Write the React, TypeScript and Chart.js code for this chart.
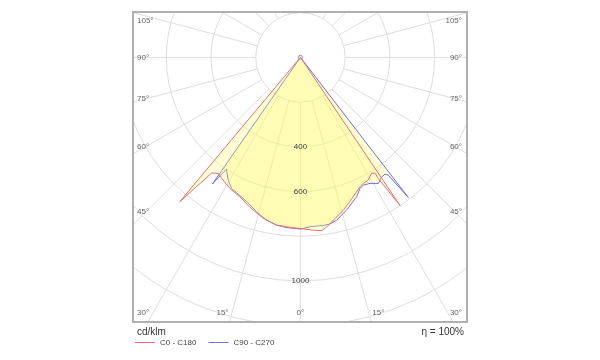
import React, { useEffect, useRef } from "react";
import { Chart, registerables } from "chart.js";

Chart.register(...registerables);

// ---- data (gamma angle in degrees, 0 = straight down; intensity in cd/klm) ----
const c0Angles = [-40, -39.9, -37.5, -35.2, -32.2, -28.3, -23.5, -18.6, -13, -8.1, -3.5, 0, 4.2, 7, 8.8, 11.4, 15.7, 20.7, 24.7, 26.5, 28.9, 31.6, 32.8, 32.7, 33.9, 33.9];
const c0Values = [0, 842, 652, 636, 649, 666, 680, 708, 739, 758, 762, 766, 775, 781, 768, 743, 710, 667, 637, 630, 627, 608, 616, 644, 799, 0];

const c90Angles = [-34.8, -34.8, -33.5, -30.5, -27.7, -25.1, -20.4, -15.8, -11.7, -8.1, -4.6, 0, 3.2, 7.7, 10, 12.5, 16.8, 22, 24.4, 26.2, 28.9, 31.7, 34.2, 35.9, 36.7, 37.6, 37.6];
const c90Values = [0, 690, 600, 637, 662, 670, 689, 718, 744, 758, 764, 768, 759, 759, 757, 746, 714, 672, 644, 637, 644, 663, 647, 645, 657, 791, 0];

const ringValues = [200, 400, 600, 800, 1000, 1200, 1400];
const ringLabels = [400, 600, 1000];
const spokeAngles = [0, 15, 30, 45, 60, 75, 90, 105, 120, 135, 150, 165, 180, 195, 210, 225, 240, 255, 270, 285, 300, 315, 330, 345];
const sideAngleLabels = [105, 90, 75, 60, 45];
const bottomAngleLabels = [-30, -15, 0, 15, 30];
const seriesNames = ["C0 - C180", "C90 - C270"];
const unitLabel = "cd/klm";
const efficiencyLabel = "η = 100%";

const RED = "rgb(232,112,112)";
const BLUE = "rgb(112,112,222)";
const FILL = "rgba(255,250,100,0.28)";
const GRID = "rgb(222,222,222)";
const FONT = "'Liberation Sans', Arial, sans-serif";

function toXY(angles: number[], values: number[]) {
  return angles.map((g, i) => {
    const t = (g * Math.PI) / 180;
    return { x: values[i] * Math.sin(t), y: -values[i] * Math.cos(t) };
  });
}

const polarPlugin = {
  id: "polarGrid",
  beforeDatasetsDraw(chart: any) {
    const { ctx, chartArea: a, scales } = chart;
    const xs = scales.x;
    const ys = scales.y;
    const cx = xs.getPixelForValue(0);
    const cy = ys.getPixelForValue(0);
    const pxPer = (xs.getPixelForValue(1000) - cx) / 1000;
    ctx.save();
    ctx.fillStyle = "#ffffff";
    ctx.fillRect(a.left, a.top, a.right - a.left, a.bottom - a.top);
    ctx.beginPath();
    ctx.rect(a.left, a.top, a.right - a.left, a.bottom - a.top);
    ctx.clip();
    ctx.strokeStyle = GRID;
    ctx.lineWidth = 1;
    for (const v of ringValues) {
      ctx.beginPath();
      ctx.arc(cx, cy, v * pxPer, 0, Math.PI * 2);
      ctx.stroke();
    }
    const r0 = ringValues[0] * pxPer;
    const r1 = 3000 * pxPer;
    for (const g of spokeAngles) {
      const t = (g * Math.PI) / 180;
      ctx.beginPath();
      ctx.moveTo(cx + r0 * Math.sin(t), cy + r0 * Math.cos(t));
      ctx.lineTo(cx + r1 * Math.sin(t), cy + r1 * Math.cos(t));
      ctx.stroke();
    }
    ctx.restore();
  },
  afterDatasetsDraw(chart: any) {
    const { ctx, chartArea: a, scales } = chart;
    const xs = scales.x;
    const ys = scales.y;
    const cx = xs.getPixelForValue(0);
    const cy = ys.getPixelForValue(0);
    const pxPer = (xs.getPixelForValue(1000) - cx) / 1000;
    ctx.save();
    // radial labels
    ctx.font = `8px ${FONT}`;
    ctx.fillStyle = "#444";
    ctx.textAlign = "center";
    ctx.textBaseline = "middle";
    for (const v of ringLabels) {
      ctx.fillText(String(v), cx, cy + v * pxPer);
    }
    // side angle labels
    ctx.fillStyle = "#666";
    const inset = cx - a.left - 13;
    for (const g of sideAngleLabels) {
      const t = (g * Math.PI) / 180;
      let y = cy + (inset * Math.cos(t)) / Math.sin(t);
      y = Math.max(y, a.top + 9);
      ctx.textAlign = "left";
      ctx.fillText(`${g}°`, a.left + 4, y);
      ctx.textAlign = "right";
      ctx.fillText(`${g}°`, a.right - 5, y);
    }
    // bottom angle labels
    const yb = a.bottom - 9;
    for (const g of bottomAngleLabels) {
      const t = (g * Math.PI) / 180;
      const x = cx + (a.bottom - cy) * Math.tan(t);
      const label = `${Math.abs(g)}°`;
      const w = ctx.measureText(label).width;
      if (g === 0) {
        ctx.textAlign = "center";
        ctx.fillText(label, x, yb);
      } else if (g < 0) {
        let start = x - 1 - w;
        if (start < a.left + 4) start = a.left + 4;
        ctx.textAlign = "left";
        ctx.fillText(label, start, yb);
      } else {
        let start = x + 1;
        if (start + w > a.right - 5) start = a.right - 5 - w;
        ctx.textAlign = "left";
        ctx.fillText(label, start, yb);
      }
    }
    // frame
    ctx.strokeStyle = "#b0b0b0";
    ctx.lineWidth = 2;
    ctx.strokeRect(a.left, a.top, a.right - a.left, a.bottom - a.top);
    // unit + efficiency
    ctx.fillStyle = "#333";
    ctx.font = `10px ${FONT}`;
    ctx.textAlign = "left";
    ctx.textBaseline = "middle";
    ctx.fillText(unitLabel, a.left + 4, a.bottom + 10);
    ctx.textAlign = "right";
    ctx.fillText(efficiencyLabel, a.right - 3, a.bottom + 10);
    // legend
    ctx.font = `8px ${FONT}`;
    ctx.textAlign = "left";
    const colors = [RED, BLUE];
    let lx = a.left + 2;
    const ly = a.bottom + 20.5;
    seriesNames.forEach((name, i) => {
      ctx.strokeStyle = colors[i];
      ctx.lineWidth = 1;
      ctx.beginPath();
      ctx.moveTo(lx, ly);
      ctx.lineTo(lx + 20, ly);
      ctx.stroke();
      ctx.fillStyle = "#444";
      ctx.fillText(name, lx + 25, ly);
      lx += 25 + ctx.measureText(name).width + 12;
    });
    ctx.restore();
  },
};

export default function App() {
  const ref = useRef<HTMLCanvasElement | null>(null);
  useEffect(() => {
    if (!ref.current) return;
    const chart = new Chart(ref.current, {
      type: "scatter",
      data: {
        datasets: [
          {
            label: seriesNames[0],
            data: toXY(c0Angles, c0Values),
            showLine: true,
            borderColor: RED,
            borderWidth: 1,
            backgroundColor: FILL,
            fill: "shape",
            pointRadius: 0,
          } as any,
          {
            label: seriesNames[1],
            data: toXY(c90Angles, c90Values),
            showLine: true,
            borderColor: BLUE,
            borderWidth: 1,
            backgroundColor: FILL,
            fill: "shape",
            pointRadius: 0,
          } as any,
          {
            label: "origin",
            data: [{ x: 0, y: 0 }],
            showLine: false,
            pointRadius: 2,
            borderWidth: 1,
            borderColor: "rgb(150,120,190)",
            backgroundColor: "#fff",
          },
        ],
      },
      options: {
        responsive: false,
        animation: false,
        layout: { padding: { left: 133, top: 12, right: 133, bottom: 38 } },
        scales: {
          x: { type: "linear", min: -749, max: 745, display: false },
          y: { type: "linear", min: -1184, max: 203, display: false },
        },
        plugins: { legend: { display: false }, tooltip: { enabled: false } },
        elements: { line: { tension: 0 } },
      },
      plugins: [polarPlugin],
    });
    return () => chart.destroy();
  }, []);
  return (
    <div style={{ position: "absolute", left: 0, top: 0, width: 600, height: 360, background: "#fff" }}>
      <canvas ref={ref} width={600} height={360} />
    </div>
  );
}
